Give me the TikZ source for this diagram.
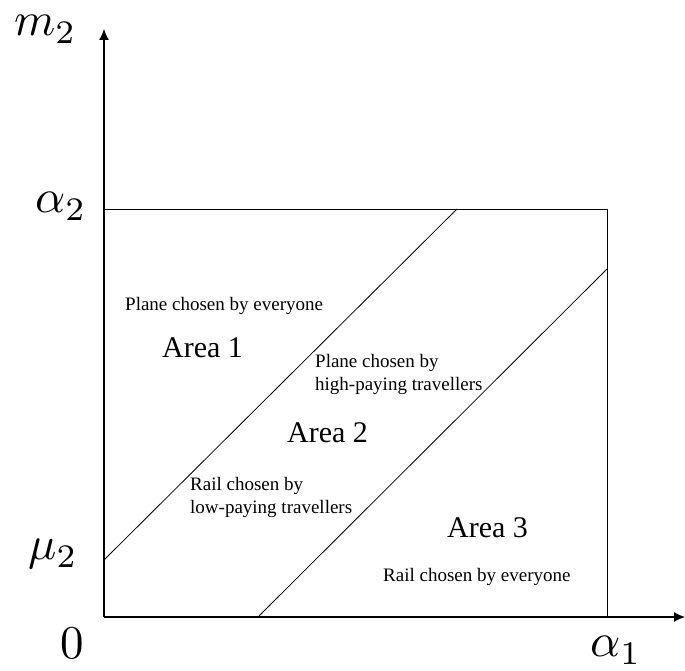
\documentclass[tikz,border=0pt]{standalone}
\usepackage{fix-cm}
\usepackage[no-math]{fontspec}
\setmainfont{Liberation Serif}
\usetikzlibrary{arrows.meta}
\newcommand{\axislabel}[1]{\scalebox{4.7}{$#1$}}

\begin{document}
\begin{tikzpicture}[x=1pt, y=1pt,
    axis/.style={line width=1.2pt, -{Latex[length=11pt, width=10pt]}},
    frame/.style={line width=0.9pt},
    border/.style={line width=0.8pt},
    lbl/.style={inner sep=0pt, anchor=base west},
    small/.style={inner sep=0pt, align=left, font=\fontsize{19}{23}\selectfont},
    area/.style={inner sep=0pt, font=\fontsize{30}{30}\selectfont}
  ]
    \useasboundingbox (-104,-54) rectangle (581,617);
    % corners and ends
    \coordinate (O) at (0,0);
    \coordinate (ytop) at (0,588);
    \coordinate (xend) at (581,0);
    \coordinate (a1) at (503,0);
    \coordinate (a2) at (0,408);
    \coordinate (corner) at (503,408);
    \coordinate (mu) at (0,57);
    \coordinate (top1) at (353,408);
    \coordinate (bot2) at (154,0);
    \coordinate (right2) at (503,348);

    \draw[axis] (O) -- (ytop);
    \draw[axis] (O) -- (xend);
    \draw[frame] (a2) -- (corner) -- (a1);
    \draw[border] (mu) -- (top1);
    \draw[border] (bot2) -- (right2);

    % axis labels
    \node[lbl] (m2) at (-90,581) {\axislabel{m_2}};
    \node[lbl] (alpha2) at (-69,404) {\axislabel{\alpha_2}};
    \node[lbl] (mu2) at (-76,57) {\axislabel{\mu_2}};
    \node[lbl] (zero) at (-44,-42) {\axislabel{0}};
    \node[lbl] (alpha1) at (486,-40) {\axislabel{\alpha_1}};

    % regions
    \node[small, anchor=base west] (all1) at (21,306) {Plane chosen by everyone};
    \node[area, anchor=base west] (area1) at (58,259) {Area 1};
    \node[small, anchor=north west] (high) at (211,263) {Plane chosen by\\high-paying travellers};
    \node[area, anchor=base west] (area2) at (183,174) {Area 2};
    \node[small, anchor=north west] (low) at (86,140) {Rail chosen by\\low-paying travellers};
    \node[area, anchor=base west] (area3) at (343,79) {Area 3};
    \node[small, anchor=base west] (all3) at (279,35) {Rail chosen by everyone};
  \end{tikzpicture}
\end{document}
